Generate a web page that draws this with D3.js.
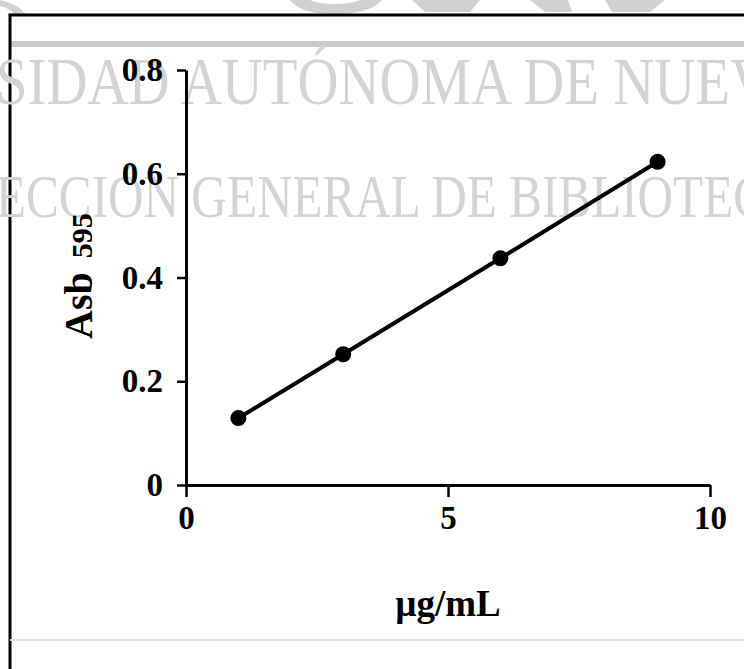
<!DOCTYPE html>
<html lang="es">
<head>
    <meta charset="UTF-8">
    <title>Asb 595 vs µg/mL</title>
    <style>
        html, body { margin: 0; padding: 0; background: #fff; }
        svg { display: block; }
    </style>
</head>
<body>
    <script src="https://d3js.org/d3.v7.min.js"></script>
    <script>
        // data
        const concentrations = [1, 3, 6, 9];
        const absorbance = [0.129, 0.252, 0.437, 0.623];
        const xTicks = [0, 5, 10];
        const yTicks = [0, 0.2, 0.4, 0.6, 0.8];
        const watermarkLines = ["SIDAD AUTÓNOMA DE NUEV", "ECCIÓN GENERAL DE BIBLIOTEC"];

        const w = 744;
        const h = 669;
        const fontFam = "'Liberation Serif', 'Times New Roman', serif";

        const svg = d3.select("body")
            .append("svg")
            .attr("width", w)
            .attr("height", h);

        // gray bits of the logo cut at the top of the scan
        const logo = svg.append("g").attr("fill", "#d0d0d0");
        logo.append("path").attr("d", "M0,0 Q18,4 26,14 L16,16 Q10,8 0,6 Z");
        logo.append("path").attr("d", "M290,0 Q300,14 335,14 Q370,14 382,0 L360,0 Q352,4 335,4 Q318,4 310,0 Z");
        logo.append("path").attr("d", "M412,0 L480,0 L470,12 L425,12 Z");
        logo.append("path").attr("d", "M530,0 L568,0 L572,12 L545,12 Z");
        logo.append("path").attr("d", "M605,0 L665,0 L650,12 L612,12 Z");

        // frame of the figure
        svg.append("rect")
            .attr("x", 10).attr("y", 41)
            .attr("width", w - 10).attr("height", 6)
            .attr("fill", "#c9c9c9");
        svg.append("path")
            .attr("d", `M${w},15 H10 V${h}`)
            .attr("fill", "none")
            .attr("stroke", "#000")
            .attr("stroke-width", 3);
        svg.append("line")
            .attr("x1", 10).attr("x2", w)
            .attr("y1", 640).attr("y2", 640)
            .attr("stroke", "#e4e4e4")
            .attr("stroke-width", 2);

        // library watermark
        const wm = svg.append("g")
            .attr("fill", "#d3d3d3")
            .style("font-family", fontFam);
        wm.append("text")
            .attr("x", -4).attr("y", 104)
            .attr("font-size", 68)
            .attr("textLength", 775)
            .attr("lengthAdjust", "spacingAndGlyphs")
            .text(watermarkLines[0]);
        wm.append("text")
            .attr("x", -4).attr("y", 217)
            .attr("font-size", 62)
            .attr("textLength", 770)
            .attr("lengthAdjust", "spacingAndGlyphs")
            .text(watermarkLines[1]);

        // scales
        const xScale = d3.scaleLinear().domain([0, 10]).range([186, 710]);
        const yScale = d3.scaleLinear().domain([0, 0.8]).range([485, 70]);

        // x axis
        const xAxis = d3.axisBottom(xScale)
            .tickValues(xTicks)
            .tickSize(12)
            .tickSizeOuter(0)
            .tickPadding(9)
            .tickFormat(d3.format("d"));
        const gx = svg.append("g")
            .attr("transform", `translate(0, ${yScale(0)})`)
            .call(xAxis);

        // y axis
        const yAxis = d3.axisLeft(yScale)
            .tickValues(yTicks)
            .tickSize(9)
            .tickSizeOuter(0)
            .tickPadding(14)
            .tickFormat(d => d === 0 ? "0" : d3.format(".1f")(d));
        const gy = svg.append("g")
            .attr("transform", `translate(${xScale(0)}, 0)`)
            .call(yAxis);

        [gx, gy].forEach(g => {
            g.select(".domain").attr("stroke", "#000").attr("stroke-width", 3);
            g.selectAll(".tick line").attr("stroke", "#000").attr("stroke-width", 2.5);
            g.selectAll(".tick text")
                .attr("fill", "#000")
                .style("font-family", fontFam)
                .style("font-weight", "bold")
                .style("font-size", "33px");
        });

        // series
        const points = concentrations.map((c, i) => [c, absorbance[i]]);
        const line = d3.line()
            .x(d => xScale(d[0]))
            .y(d => yScale(d[1]));
        svg.append("path")
            .datum(points)
            .attr("d", line)
            .attr("fill", "none")
            .attr("stroke", "#000")
            .attr("stroke-width", 4);
        svg.selectAll("circle.pt")
            .data(points)
            .enter()
            .append("circle")
            .attr("class", "pt")
            .attr("cx", d => xScale(d[0]))
            .attr("cy", d => yScale(d[1]))
            .attr("r", 8)
            .attr("fill", "#000");

        // axis titles
        svg.append("text")
            .attr("x", 448).attr("y", 616)
            .attr("text-anchor", "middle")
            .style("font-family", fontFam)
            .style("font-weight", "bold")
            .style("font-size", "37px")
            .text("µg/mL");

        const ylab = svg.append("text")
            .attr("transform", "translate(92, 339) rotate(-90)")
            .attr("text-anchor", "start")
            .style("font-family", fontFam)
            .style("font-weight", "bold")
            .style("font-size", "40px");
        ylab.append("tspan").text("Asb");
        ylab.append("tspan").attr("dx", 14).style("font-size", "30px").text("595");
    </script>
</body>
</html>
